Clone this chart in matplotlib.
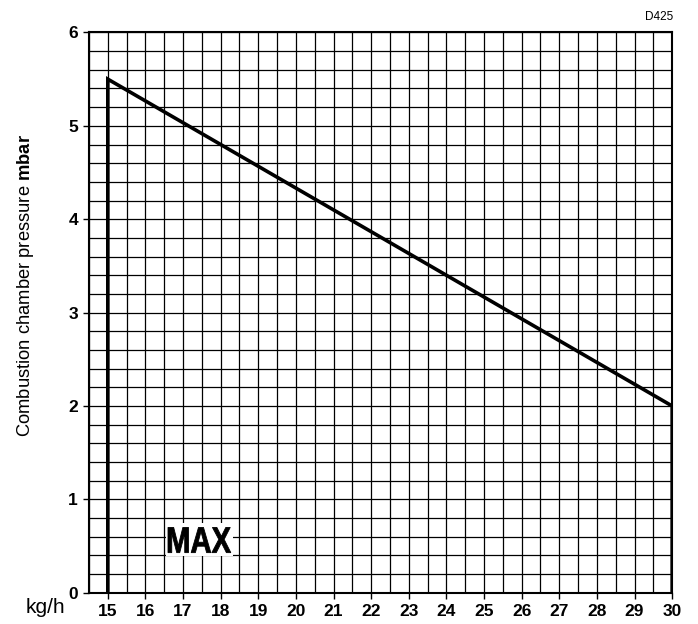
import numpy as np
import matplotlib
matplotlib.use("Agg")
import matplotlib.pyplot as plt
from matplotlib.ticker import MultipleLocator
from matplotlib.textpath import TextPath
from matplotlib.patches import PathPatch, Rectangle
from matplotlib.font_manager import FontProperties
from matplotlib.transforms import Affine2D

# Data
flow_kgh = [15, 15, 30, 30]
pressure_mbar = [0, 5.5, 2.0, 0]
x_ticks = list(range(15, 31))
y_ticks = list(range(0, 7))

plt.rcParams['font.family'] = ['Liberation Sans', 'DejaVu Sans']
plt.rcParams['mathtext.fontset'] = 'custom'
plt.rcParams['mathtext.rm'] = 'Liberation Sans'
plt.rcParams['mathtext.bf'] = 'Liberation Sans:bold'

fig = plt.figure(figsize=(6.98, 6.24), dpi=100)
ax = fig.add_axes([0.1275, 0.05, 0.8355, 0.898])

ax.plot(flow_kgh, pressure_mbar, color='black', lw=2.6, solid_joinstyle='miter', zorder=3)

ax.set_xlim(14.5, 30)
ax.set_ylim(0, 6)
ax.set_xticks(x_ticks)
ax.set_yticks(y_ticks)
ax.xaxis.set_minor_locator(MultipleLocator(0.5))
ax.yaxis.set_minor_locator(MultipleLocator(0.2))
ax.grid(which='both', color='black', lw=0.9)
ax.tick_params(which='minor', length=0)
ax.tick_params(which='major', direction='out', length=4, width=1, color='black', pad=4)
for lab in ax.get_xticklabels() + ax.get_yticklabels():
    lab.set_fontsize(12.5)
    lab.set_fontweight('bold')
for s in ax.spines.values():
    s.set_linewidth(1.5)

fig.text(0.037, 0.542, "Combustion chamber pressure $\\mathbf{mbar}$", fontsize=13.2,
         rotation=90, ha='center', va='center')
fig.text(0.065, 0.027, "kg/h", fontsize=15, ha='center', va='center')
fig.text(0.945, 0.972, "D425", fontsize=8.5, ha='center', va='center')

# condensed bold "MAX" label on a white patch
ax.add_patch(Rectangle((16.55, 0.39), 1.77, 0.36, facecolor='white', edgecolor='none', zorder=4))
tp = TextPath((0, 0), "MAX", size=1, prop=FontProperties(family='Liberation Sans', weight='bold'))
ext = tp.get_extents()
x0, x1, y0, y1 = 16.6, 18.27, 0.43, 0.70
tr = Affine2D().translate(-ext.x0, -ext.y0).scale((x1 - x0) / ext.width, (y1 - y0) / ext.height).translate(x0, y0)
ax.add_patch(PathPatch(tr.transform_path(tp), facecolor='black', edgecolor='black', lw=0.6, zorder=5))

fig.savefig("out.png", dpi=100)
